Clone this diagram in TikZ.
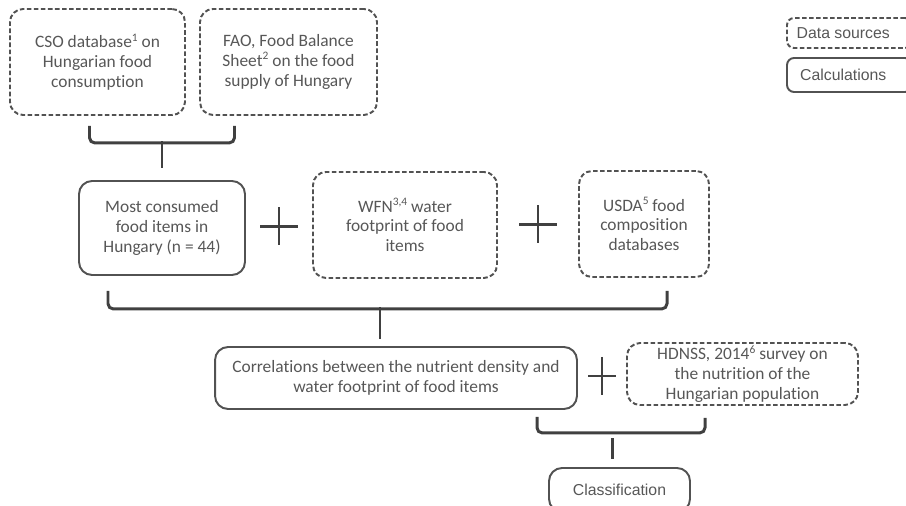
\documentclass[tikz,border=0pt]{standalone}
\usepackage{fontspec}
\setmainfont{Carlito}[Ligatures=NoCommon]
\newfontfamily\arialfont{Liberation Sans}
\usetikzlibrary{calc}
\colorlet{box edge}{black!68}
\colorlet{box text}{black!66}
\colorlet{brace line}{black!75}
\newcommand{\supnum}[1]{\raisebox{0.8ex}{\fontsize{6.5}{7}\selectfont #1}}
\tikzset{sourcebox/.style={draw=box edge, line width=1.1pt, dash pattern=on 2.6pt off 1.4pt, rounded corners=0.26cm, align=center, inner sep=1pt, text=box text},
	calcbox/.style={draw=box edge, line width=1.1pt, rounded corners=0.26cm, align=center, inner sep=1pt, text=box text},
	brace/.style={draw=brace line, line width=1.7pt, rounded corners=3pt},
	plus/.style={draw=brace line, line width=1.4pt}}

\begin{document}
\begin{tikzpicture}[x=0.02cm, y=-0.02cm, font=\fontsize{9.9}{11.3}\selectfont]

 \clip (0,0) rectangle (906,506);

% data sources and calculations
\node[sourcebox, minimum width=3.5cm, minimum height=2.12cm] (cso) at (97.5,62) {CSO database\supnum{1} on\\Hungarian food\\consumption};
\node[sourcebox, minimum width=3.54cm, minimum height=2.12cm] (fao) at (288.5,62) {FAO, Food Balance\\Sheet\supnum{2} on the food\\supply of Hungary};
\node[calcbox, minimum width=3.32cm, minimum height=1.88cm] (most) at (162,228) {Most consumed\\food items in\\Hungary (n = 44)};
\node[sourcebox, minimum width=3.68cm, minimum height=2.12cm] (wfn) at (405,225) {WFN\supnum{3,4} water\\footprint of food\\items};
\node[sourcebox, minimum width=2.6cm, minimum height=2.12cm] (usda) at (644,224) {USDA\supnum{5} food\\composition\\databases};
\node[calcbox, minimum width=7.24cm, minimum height=1.24cm] (corr) at (396,378) {Correlations between the nutrient density and\\water footprint of food items};
\node[sourcebox, minimum width=4.62cm, minimum height=1.24cm] (hdnss) at (742.5,374) {HDNSS, 2014\supnum{6} survey on\\the nutrition of the\\Hungarian population};
\node[calcbox, minimum width=2.82cm, minimum height=0.88cm, font=\arialfont\fontsize{9}{11}\selectfont] (class) at (619.5,490) {Classification};

% legend
\node[sourcebox, rounded corners=0.14cm, minimum width=2.5cm, minimum height=0.6cm, font=\arialfont\fontsize{9}{11}\selectfont] (legsrc) at (849.5,33) {\hspace*{-0.25cm}Data sources};
\node[calcbox, rounded corners=0.14cm, minimum width=2.5cm, minimum height=0.68cm, font=\arialfont\fontsize{9}{11}\selectfont] (legcalc) at (849.5,75) {\hspace*{-0.25cm}Calculations};

% brackets
\draw[brace] ($(cso.south)+(-8,10)$) -- ++(0,17) -| ($(fao.south)+(-54,10)$);
\draw[brace] ($(most.north)+(0,-39)$) -- ($(most.north)+(0,-12)$);
\draw[brace] ($(most.south)+(-54,15)$) -- ++(0,18) -| ($(usda.south)+(23,13)$);
\draw[brace] ($(corr.north)+(-16,-39)$) -- ($(corr.north)+(-16,-7)$);
\draw[brace] ($(corr.south)+(141,7)$) -- ++(0,16) -| ($(hdnss.south)+(-37.5,12)$);
\draw[brace] ($(class.north)+(-7.5,-29)$) -- ($(class.north)+(-7.5,-8)$);

% plus signs
\path ($(most.east)!0.5!(wfn.west)$) coordinate (p1);
\path ($(wfn.east)!0.5!(usda.west)$) coordinate (p2);
\path ($(corr.east)!0.5!(hdnss.west)$) coordinate (p3);
\draw[plus] (p1) +(-19,0) -- +(19,0) +(0,-19) -- +(0,19);
\draw[plus] (p2) +(-19,0) -- +(19,0) +(0,-19) -- +(0,19);
\draw[plus] (p3) +(-14,0) -- +(14,0) +(0,-19) -- +(0,19);

\end{tikzpicture}
\end{document}
